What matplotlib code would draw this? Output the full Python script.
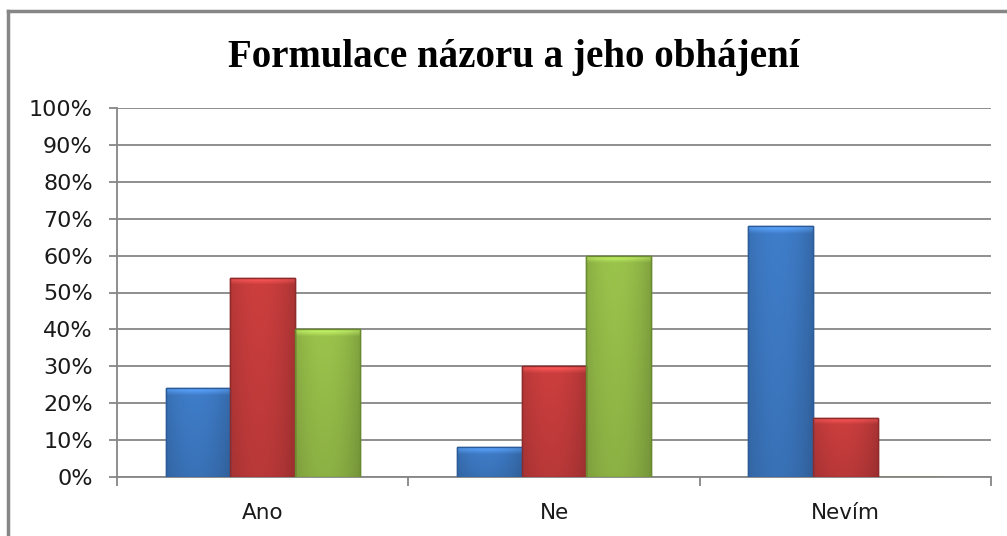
import numpy as np
import matplotlib
matplotlib.use("Agg")
import matplotlib.pyplot as plt
from matplotlib.ticker import PercentFormatter
from matplotlib.colors import to_rgb

title = "Formulace názoru a jeho obhájení"
categories = ["Ano", "Ne", "Nevím"]
series_a = [24, 8, 68]
series_b = [54, 30, 16]
series_c = [40, 60, 0]
yticks = [0, 10, 20, 30, 40, 50, 60, 70, 80, 90, 100]

colors = ["#3E7BC6", "#C93D3D", "#98C04A"]
edges = ["#2B5B98", "#8E2A2A", "#6A8A30"]

fig = plt.figure(figsize=(10.07, 5.36), dpi=100)
ax = fig.add_axes([117/1007, 59/536, (991-117)/1007, (477-108)/536])

x = np.arange(len(categories)) + 0.5
w = 0.222
grid_c = "#868686"
for i, (vals, c, ec) in enumerate(zip([series_a, series_b, series_c], colors, edges)):
    bars = ax.bar(x + (i - 1) * w, vals, width=w, color=c, edgecolor=ec, linewidth=1.0, zorder=3)
    base = np.array(to_rgb(c))
    for b in bars:
        if b.get_height() <= 0:
            continue
        x0, y0 = b.get_x(), b.get_y()
        bw, bh = b.get_width(), b.get_height()
        nx, ny = 60, 200
        u = np.linspace(0, 1, nx)
        v = np.linspace(0, 1, ny)[:, None]
        hshade = 1.0 - 0.16 * (np.abs(u - 0.45) / 0.55) ** 2
        vshade = 0.92 + 0.10 * v
        img = base[None, None, :] * (hshade[None, :, None] * vshade[:, :, None])
        px_h = bh / 100 * 369
        top_frac = min(7.0 / max(px_h, 1), 0.5)
        t = (v[:, 0] - (1 - top_frac)) / top_frac
        topmask = t > 0
        boost = np.clip(t[topmask], 0, 1)[:, None, None]
        img[topmask] = np.clip(img[topmask] * (1 + 0.22 * boost) + 0.07 * boost, 0, 1)
        img = np.clip(img, 0, 1)
        im = ax.imshow(img, extent=[x0, x0 + bw, y0, y0 + bh], origin="lower",
                       aspect="auto", zorder=3.5, interpolation="bilinear")
        im.set_clip_path(b)
        ax.add_patch(plt.Rectangle((x0, y0), bw, bh, fill=False, edgecolor=ec,
                                   linewidth=1.0, zorder=4))

ax.set_xlim(0, 3)
ax.set_ylim(0, 100)
ax.set_yticks(yticks)
ax.yaxis.set_major_formatter(PercentFormatter(decimals=0))
ax.set_xticks(x)
ax.set_xticklabels(categories)
ax.set_xticks([0, 1, 2, 3], minor=True)
ax.tick_params(axis="x", which="major", length=0, pad=19, labelsize=15.5, colors="black")
ax.tick_params(axis="x", which="minor", length=6.5, width=1.3, color=grid_c)
ax.tick_params(axis="y", length=5.5, width=1.3, color=grid_c, labelsize=16, pad=12)
for lab in ax.get_yticklabels() + ax.get_xticklabels():
    lab.set_family("DejaVu Sans")
    lab.set_color("#1a1a1a")
ax.yaxis.grid(True, color=grid_c, linewidth=1.3, zorder=0)
ax.set_axisbelow(True)
for s in ["top", "right"]:
    ax.spines[s].set_visible(False)
ax.spines["left"].set_color(grid_c)
ax.spines["bottom"].set_color(grid_c)
ax.spines["left"].set_linewidth(1.3)
ax.spines["bottom"].set_linewidth(1.3)

fig.text(514/1007, 1 - 57/536, title, ha="center", va="center", fontsize=28,
         fontweight="bold", family="Liberation Serif")

fig.add_artist(plt.Line2D([8/1007, 8/1007], [0, 1 - 11/536], transform=fig.transFigure,
                          color="#868686", linewidth=2.5))
fig.add_artist(plt.Line2D([8/1007, 1], [1 - 11/536, 1 - 11/536], transform=fig.transFigure,
                          color="#868686", linewidth=2.5))

fig.savefig("out.png", dpi=100, facecolor="white")
